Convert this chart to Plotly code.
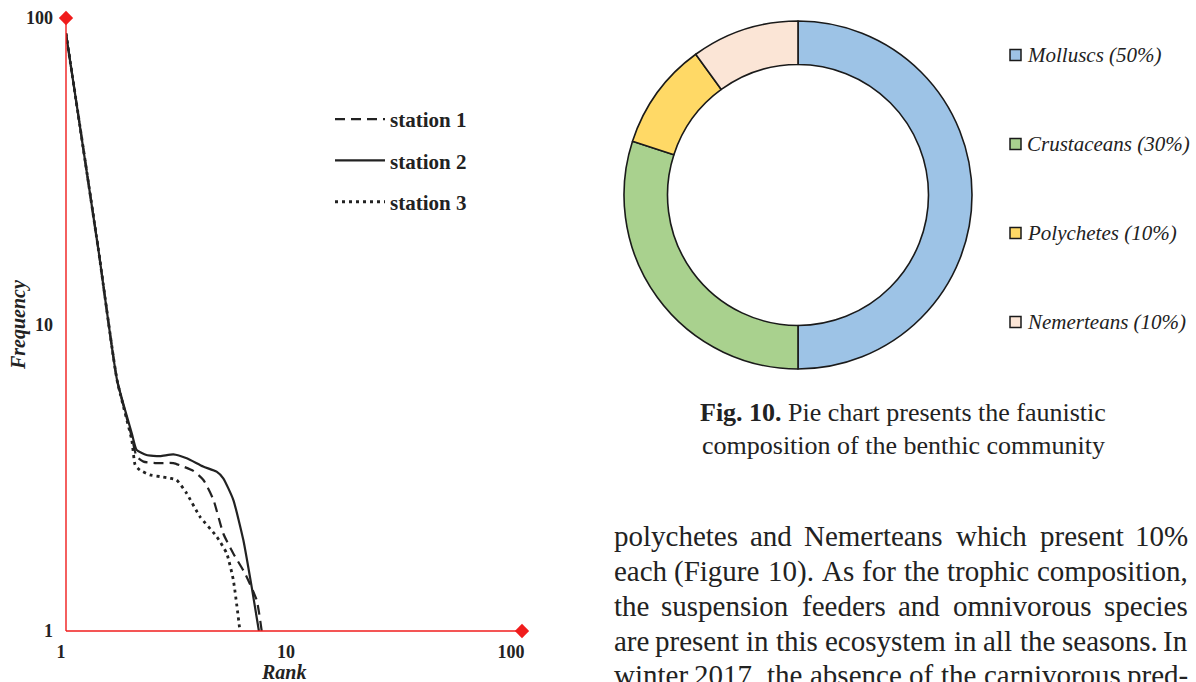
import math
import plotly.graph_objects as go

W, H = 1196, 682

# ---------------- data (rank, frequency) ----------------
station1_ranks = [1, 1.394, 1.686, 1.96, 2.06, 2.21, 2.53, 3.00, 3.32, 3.68, 4.08, 4.52, 5.00, 5.54, 6.25, 7.04, 7.41]
station1_freq = [89, 17.5, 6.59, 4.30, 3.71, 3.57, 3.53, 3.53, 3.44, 3.33, 3.11, 2.68, 2.08, 1.79, 1.54, 1.26, 1.0]

station2_ranks = [1, 1.394, 1.686, 1.96, 2.06, 2.28, 2.62, 3.00, 3.44, 4.07, 4.67, 5.00, 5.54, 6.14, 6.69, 7.2]
station2_freq = [89, 17.5, 6.59, 4.42, 3.90, 3.75, 3.72, 3.77, 3.66, 3.44, 3.31, 3.15, 2.68, 1.98, 1.39, 1.0]

station3_ranks = [1, 1.394, 1.686, 1.96, 2.03, 2.13, 2.36, 2.62, 2.90, 3.10, 3.44, 3.94, 4.68, 5.18, 5.54, 5.93]
station3_freq = [89, 17.5, 6.59, 4.20, 3.48, 3.35, 3.23, 3.19, 3.15, 3.11, 2.81, 2.36, 2.03, 1.79, 1.47, 1.0]

x_tick_vals = [1, 10, 100]
x_tick_text = ["1", "10", "100"]
y_tick_vals = [1, 10, 100]
y_tick_text = ["1", "10", "100"]

groups = ["Molluscs", "Crustaceans", "Polychetes", "Nemerteans"]
shares = [50, 30, 10, 10]
group_colors = ["#9DC3E6", "#A9D18E", "#FFD966", "#FBE5D6"]

caption_bold = "Fig. 10."
caption_rest = " Pie chart presents the faunistic"
caption_line2 = "composition of the benthic community"

body_lines = [
    "polychetes and Nemerteans which present 10%",
    "each (Figure 10). As for the trophic composition,",
    "the suspension feeders and omnivorous species",
    "are present in this ecosystem in all the seasons. In",
    "winter 2017, the absence of the carnivorous pred-",
]

# ---------------- helpers ----------------
def px(x):
    return x / W

def py(y):
    return 1 - y / H

SERIF = "Liberation Serif"
RED = "#f01c1c"
INK = "#222222"

# Times / Liberation Serif advance widths (per 1000 em)
TIMES_W = {
    'a': 444, 'b': 500, 'c': 444, 'd': 500, 'e': 444, 'f': 333, 'g': 500, 'h': 500,
    'i': 278, 'j': 278, 'k': 500, 'l': 278, 'm': 778, 'n': 500, 'o': 500, 'p': 500,
    'q': 500, 'r': 333, 's': 389, 't': 278, 'u': 500, 'v': 500, 'w': 722, 'x': 500,
    'y': 500, 'z': 444, 'N': 722, 'F': 556, 'A': 722, 'I': 333,
    '(': 333, ')': 333, '.': 250, ',': 250, '-': 333, '%': 833,
}

def word_width(word, size):
    return sum(TIMES_W.get(ch, 500) for ch in word) * size / 1000.0 * 1.012

X_LEFT, X_RIGHT = 66, 522
Y_TOP, Y_BOT = 18, 631
X_DECADE = 225.0
x_max_log = (X_RIGHT - X_LEFT) / X_DECADE

fig = go.Figure()

line_styles = [
    ("station 1", station1_ranks, station1_freq, "10px,6px", 2.2),
    ("station 2", station2_ranks, station2_freq, "solid", 2.2),
    ("station 3", station3_ranks, station3_freq, "3px,4px", 2.8),
]
for name, xr, yv, dash, lw in line_styles:
    fig.add_trace(go.Scatter(
        x=xr, y=yv, mode="lines", name=name,
        line=dict(color=INK, width=lw, dash=dash, shape="spline", smoothing=0.5),
        legendgroup=name, hoverinfo="skip",
    ))

# diamond end markers on the red axes
fig.add_trace(go.Scatter(
    x=[1, 10 ** x_max_log], y=[100, 1], mode="markers",
    marker=dict(symbol="diamond", size=11, color=RED),
    cliponaxis=False, showlegend=False, hoverinfo="skip",
))

# donut
fig.add_trace(go.Pie(
    labels=groups, values=shares, sort=False, direction="clockwise", rotation=0,
    hole=0.75, textinfo="none", hoverinfo="skip", showlegend=False,
    marker=dict(colors=group_colors, line=dict(color="#1a1a1a", width=1.6)),
    domain=dict(x=[px(624), px(972)], y=[py(369), py(21)]),
))

fig.update_layout(
    width=W, height=H,
    margin=dict(l=0, r=0, t=0, b=0, autoexpand=False),
    paper_bgcolor="white", plot_bgcolor="white",
    xaxis=dict(
        type="log", range=[0, x_max_log], domain=[px(X_LEFT), px(X_RIGHT)],
        automargin=False,
        showgrid=False, zeroline=False, showline=False,
        tickvals=x_tick_vals, ticktext=x_tick_text, ticks="",
        tickfont=dict(family=SERIF, size=18, color=INK, weight="bold"),
        ticklabelstandoff=8, ticklabelshift=-5,
    ),
    yaxis=dict(
        type="log", range=[0, 2], domain=[py(Y_BOT), py(Y_TOP)],
        automargin=False,
        showgrid=False, zeroline=False, showline=False,
        tickvals=y_tick_vals, ticktext=y_tick_text, ticks="",
        tickfont=dict(family=SERIF, size=18, color=INK, weight="bold"),
        ticklabelstandoff=12,
    ),
    legend=dict(
        x=px(330), y=py(99), xanchor="left", yanchor="top",
        font=dict(family=SERIF, size=21, color=INK, weight="bold"),
        bgcolor="rgba(0,0,0,0)", itemwidth=50, tracegroupgap=11,
        traceorder="grouped",
    ),
    showlegend=True,
)

annotations = []
shapes = []

# red axis lines along the plot area edges
shapes.append(dict(type="line", xref="x domain", yref="y domain", x0=0, x1=1, y0=0, y1=0,
                   line=dict(color=RED, width=1.4), layer="above"))
shapes.append(dict(type="line", xref="x domain", yref="y domain", x0=0, x1=0, y0=0, y1=1,
                   line=dict(color=RED, width=1.4), layer="above"))

# axis titles
annotations.append(dict(xref="paper", yref="paper", x=px(283), y=py(672),
                        xanchor="center", yanchor="middle", showarrow=False,
                        text="<b><i>Rank</i></b>",
                        font=dict(family=SERIF, size=20, color=INK)))
annotations.append(dict(xref="paper", yref="paper", x=px(18), y=py(325),
                        xanchor="center", yanchor="middle", showarrow=False,
                        textangle=-90, text="<b><i>Frequency</i></b>",
                        font=dict(family=SERIF, size=20, color=INK)))

# donut legend
legend_rows = [55, 144, 233, 322]
for g, s, c, yy in zip(groups, shares, group_colors, legend_rows):
    shapes.append(dict(type="rect", xref="paper", yref="paper",
                       x0=px(1010), x1=px(1021), y0=py(yy + 5.5), y1=py(yy - 5.5),
                       fillcolor=c, line=dict(color="#1a1a1a", width=1.5)))
    annotations.append(dict(xref="paper", yref="paper", x=px(1025), y=py(yy),
                            xanchor="left", yanchor="middle", showarrow=False,
                            text=f"<i>{g} ({s}%)</i>",
                            font=dict(family=SERIF, size=21, color=INK)))

# caption
annotations.append(dict(xref="paper", yref="paper", x=px(903), y=py(412),
                        xanchor="center", yanchor="middle", showarrow=False,
                        text=f"<b>{caption_bold}</b>{caption_rest}",
                        font=dict(family=SERIF, size=26, color=INK)))
annotations.append(dict(xref="paper", yref="paper", x=px(903), y=py(445),
                        xanchor="center", yanchor="middle", showarrow=False,
                        text=caption_line2,
                        font=dict(family=SERIF, size=26, color=INK)))

# body text, justified between 612 and 1190
BODY_SIZE = 29
BODY_L, BODY_R = 612, 1190
body_y = [536, 571, 606, 641, 675]
for line, yy in zip(body_lines, body_y):
    words = line.split(" ")
    widths = [word_width(w, BODY_SIZE) for w in words]
    gap = (BODY_R - BODY_L - sum(widths)) / (len(words) - 1)
    xcur = BODY_L
    n = len(words)
    for k, (w, ww) in enumerate(zip(words, widths)):
        if k == 0:
            xa, xpos = "left", BODY_L
        elif k == n - 1:
            xa, xpos = "right", BODY_R
        else:
            xa, xpos = "center", xcur + ww / 2
        annotations.append(dict(xref="paper", yref="paper", x=px(xpos), y=py(yy),
                                xanchor=xa, yanchor="middle", showarrow=False, text=w,
                                font=dict(family=SERIF, size=BODY_SIZE, color=INK)))
        xcur += ww + gap

fig.update_layout(annotations=annotations, shapes=shapes)

fig.write_html("out.html")
